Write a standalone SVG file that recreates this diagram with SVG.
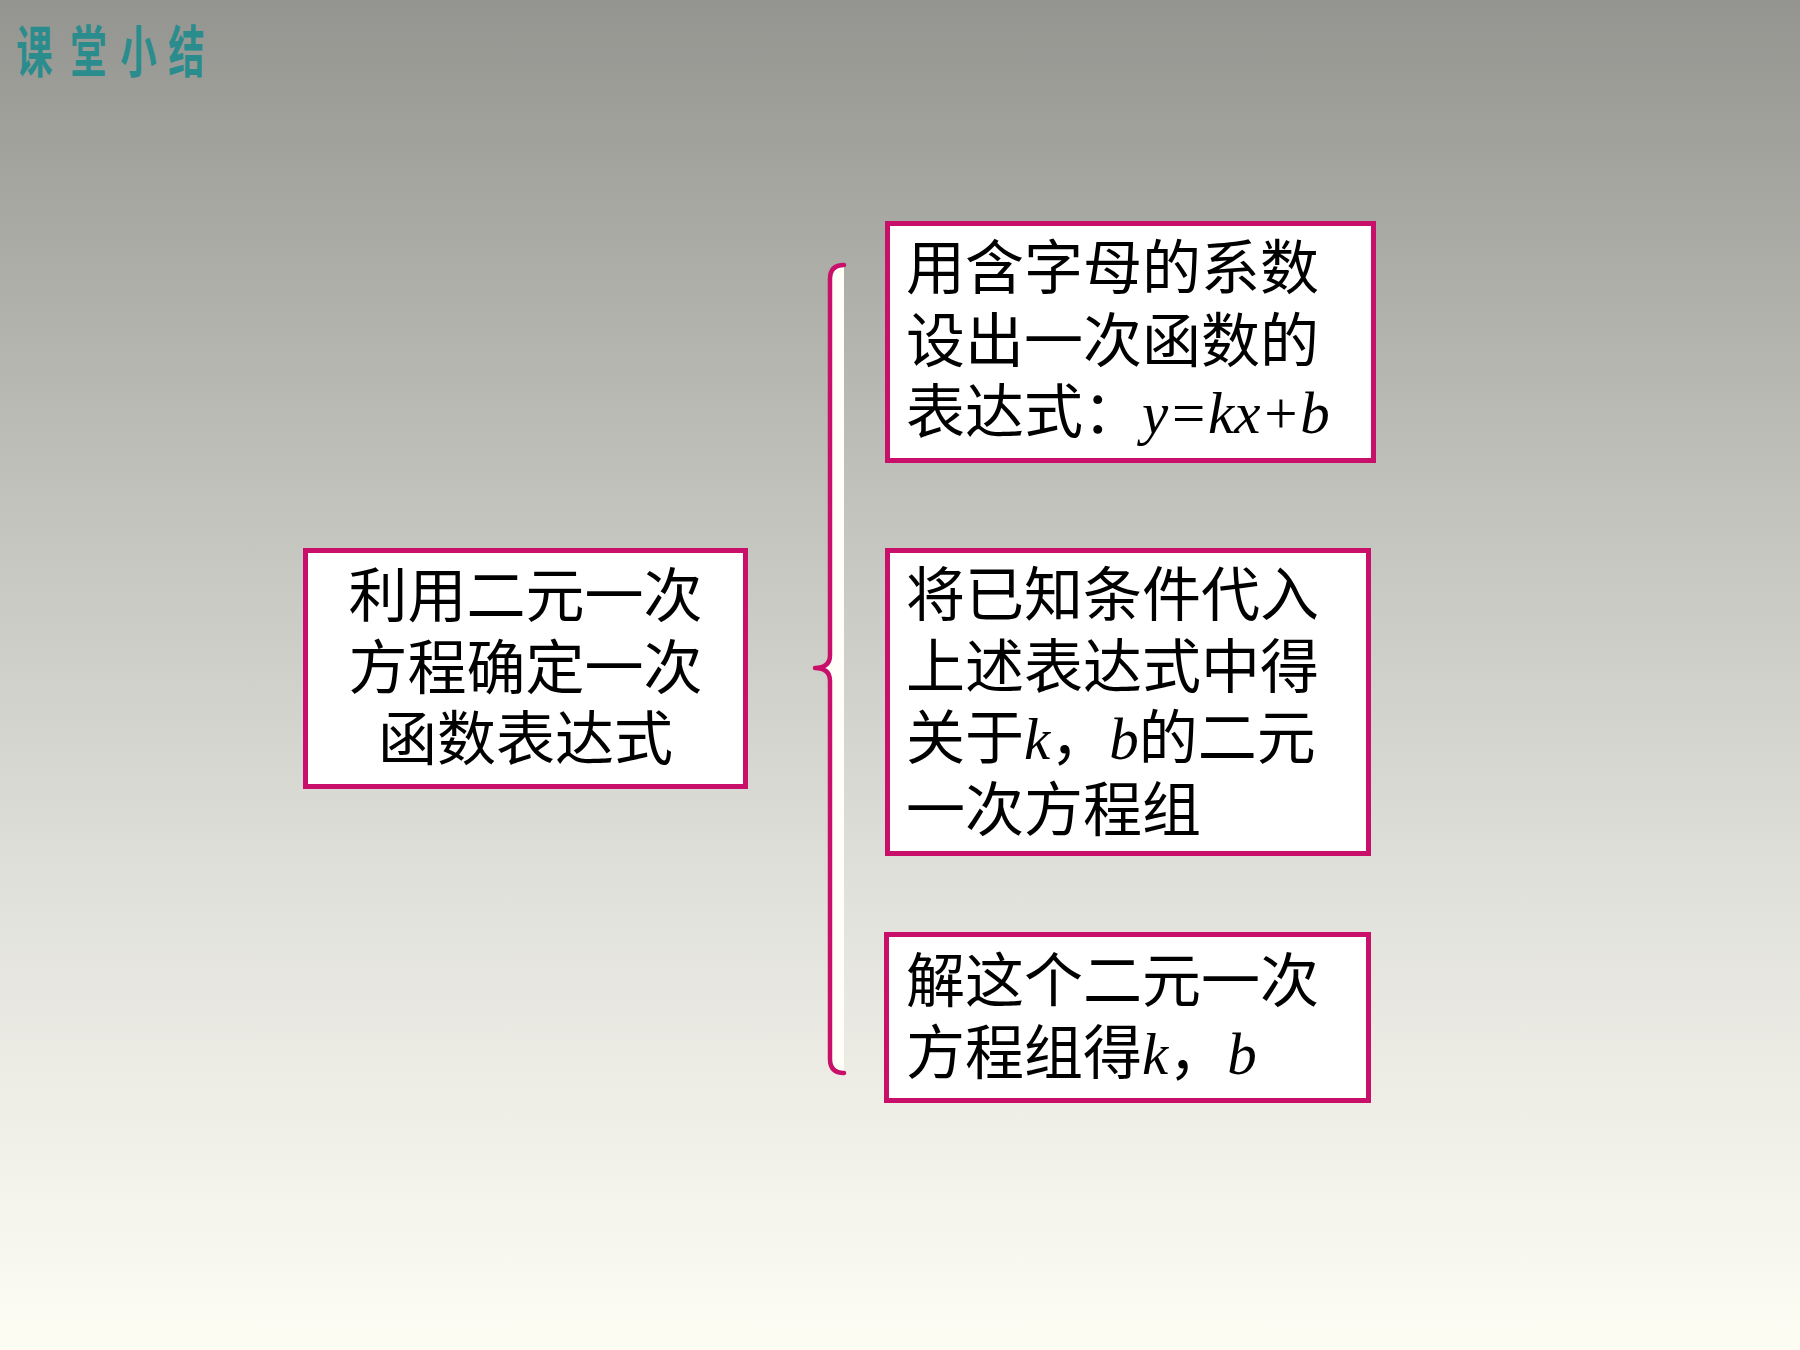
<svg xmlns="http://www.w3.org/2000/svg" width="1800" height="1350" viewBox="0 0 1800 1350">
<defs>
<linearGradient id="bg" x1="0" y1="0" x2="0" y2="1">
<stop offset="0" stop-color="#949590"/>
<stop offset="0.4" stop-color="#C6C6C0"/>
<stop offset="0.67" stop-color="#E2E2DC"/>
<stop offset="1" stop-color="#FDFDF4"/>
</linearGradient>
<style>
.box{fill:#FFFFFF;stroke:#C8106A;stroke-width:5}
.t{font-family:"Noto Sans CJK SC","Noto Sans",sans-serif;font-size:59px;fill:#000000}
.m{font-family:"Liberation Serif","Times New Roman",serif;font-style:italic}
.title{font-family:"Noto Sans CJK SC",sans-serif;font-weight:bold;font-size:56px;fill:#2A8C8C}
</style>
</defs>
<rect x="0" y="0" width="1800" height="1350" fill="url(#bg)"/>
<g id="title">
<text class="title" transform="scale(0.65 1)" x="25 108 185 259" y="72">课堂小结</text>
</g>
<g id="connectors">
<path d="M844,265 Q830,265 830,279 L830,655 Q830,668 815,668 Q830,668 830,681 L830,1059 Q830,1073 844,1073 Z" fill="#FFFFF8" stroke="none"/>
<path d="M844,265 Q830,265 830,279 L830,655 Q830,668 815,668 Q830,668 830,681 L830,1059 Q830,1073 844,1073" fill="none" stroke="#C8106A" stroke-width="4.5" stroke-linecap="round" stroke-linejoin="round"/>
</g>
<g id="node-main">
<rect class="box" x="305.5" y="550.5" width="440" height="236"/>
<text class="t" text-anchor="middle"><tspan x="525.5" y="617">利用二元一次</tspan><tspan x="525.5" y="689">方程确定一次</tspan><tspan x="525.5" y="760">函数表达式</tspan></text>
</g>
<g id="node-step1">
<rect class="box" x="887.5" y="223.5" width="486" height="237"/>
<text class="t"><tspan x="906" y="289">用含字母的系数</tspan><tspan x="906" y="362">设出一次函数的</tspan><tspan x="906" y="433">表达式：</tspan><tspan class="m">y=kx+b</tspan></text>
</g>
<g id="node-step2">
<rect class="box" x="887.5" y="550.5" width="481" height="303"/>
<text class="t"><tspan x="906" y="616">将已知条件代入</tspan><tspan x="906" y="688">上述表达式中得</tspan><tspan x="906" y="759">关于</tspan><tspan class="m">k</tspan><tspan>，</tspan><tspan class="m">b</tspan><tspan>的二元</tspan><tspan x="906" y="831">一次方程组</tspan></text>
</g>
<g id="node-step3">
<rect class="box" x="886.5" y="934.5" width="482" height="166"/>
<text class="t"><tspan x="906" y="1002">解这个二元一次</tspan><tspan x="906" y="1074">方程组得</tspan><tspan class="m">k</tspan><tspan>，</tspan><tspan class="m">b</tspan></text>
</g>
</svg>
